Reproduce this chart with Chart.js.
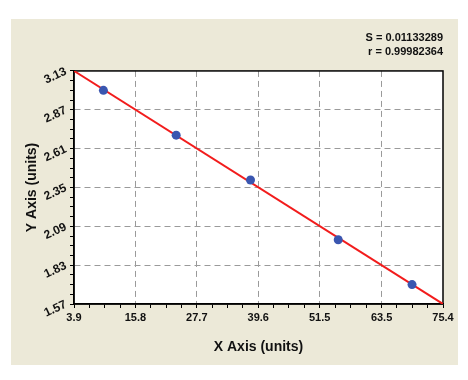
<!DOCTYPE html>
<html>
<head>
<meta charset="utf-8">
<script src="https://cdn.jsdelivr.net/npm/chart.js@4/dist/chart.umd.min.js"></script>
<style>
    body { margin: 0; background: #ffffff; }
    #panel {
        position: absolute;
        left: 11px; top: 19px;
        width: 447px; height: 346px;
        background: #ECE9D8;
    }
</style>
</head>
<body>
<div id="panel"><canvas id="stdChart" width="447" height="346"></canvas></div>
<script>
// ========== DATA ==========
const xValues = [9.6, 23.7, 38.1, 55.1, 69.4];
const yValues = [3.00, 2.70, 2.40, 2.00, 1.70];

// fitted line end points (across the axis range)
const fitX = [3.9, 75.4];
const fitY = [3.13, 1.57];

const xTickLabels = ['3.9', '15.8', '27.7', '39.6', '51.5', '63.5', '75.4'];
const yTickLabels = ['1.57', '1.83', '2.09', '2.35', '2.61', '2.87', '3.13'];

const statLines = ['S = 0.01133289', 'r = 0.99982364'];

// ========== HELPERS ==========
// major ticks from labels, 3 minor ticks between each pair
function buildTicks(labels) {
    const ticks = [];
    for (let i = 0; i < labels.length; i++) {
        const v = parseFloat(labels[i]);
        ticks.push({ value: v, isMajor: true, text: labels[i] });
        if (i < labels.length - 1) {
            const next = parseFloat(labels[i + 1]);
            for (let k = 1; k < 4; k++) {
                ticks.push({ value: v + (next - v) * k / 4, isMajor: false, text: '' });
            }
        }
    }
    return ticks;
}

function gridColor(ctx, labels) {
    const t = ctx.tick;
    if (!t || !t.isMajor) return 'rgba(0,0,0,0)';
    if (t.text === labels[0] || t.text === labels[labels.length - 1]) return 'rgba(0,0,0,0)';
    return '#9a9a9a';
}

const plotFrame = {
    id: 'plotFrame',
    beforeDraw(chart) {
        const { ctx, chartArea: a } = chart;
        ctx.save();
        ctx.fillStyle = '#ffffff';
        ctx.fillRect(a.left, a.top, a.right - a.left, a.bottom - a.top);
        ctx.restore();
    },
    beforeDatasetsDraw(chart) {
        const { ctx, chartArea: a } = chart;
        ctx.save();
        ctx.strokeStyle = '#000000';
        ctx.lineWidth = 1.5;
        ctx.strokeRect(a.left, a.top, a.right - a.left, a.bottom - a.top);
        ctx.restore();
    }
};

const FONT = "'Liberation Sans', Arial, sans-serif";

// ========== CHART ==========
new Chart(document.getElementById('stdChart').getContext('2d'), {
    type: 'scatter',
    data: {
        datasets: [{
            label: 'Standards',
            data: xValues.map((x, i) => ({ x: x, y: yValues[i] })),
            pointRadius: 4.5,
            pointBackgroundColor: '#3a56b0',
            pointBorderColor: '#3a56b0',
            pointBorderWidth: 0,
            showLine: false
        }, {
            label: 'Fit',
            data: fitX.map((x, i) => ({ x: x, y: fitY[i] })),
            showLine: true,
            borderColor: '#f21c1c',
            borderWidth: 2,
            pointRadius: 0
        }]
    },
    options: {
        responsive: false,
        animation: false,
        layout: { padding: { left: 0, right: 15, top: 0, bottom: 0 } },
        plugins: {
            legend: { display: false },
            tooltip: { enabled: false },
            title: {
                display: true,
                text: statLines,
                align: 'end',
                color: '#111111',
                font: { family: FONT, size: 11, weight: 'bold', lineHeight: 1.27 },
                padding: { top: 12, bottom: 12 }
            }
        },
        scales: {
            x: {
                type: 'linear',
                min: parseFloat(xTickLabels[0]),
                max: parseFloat(xTickLabels[xTickLabels.length - 1]),
                afterBuildTicks: scale => { scale.ticks = buildTicks(xTickLabels); },
                afterFit: scale => { scale.height = 61; },
                ticks: {
                    autoSkip: false,
                    maxRotation: 0,
                    padding: 3,
                    color: '#111111',
                    font: { family: FONT, size: 11, weight: 'bold' },
                    callback: (value, index, ticks) => ticks[index].text
                },
                grid: {
                    color: ctx => gridColor(ctx, xTickLabels),
                    tickColor: '#000000',
                    tickLength: 4,
                    tickBorderDash: []
                },
                border: { display: true, color: '#000000', width: 1.5, dash: [6, 4] },
                title: {
                    display: true,
                    text: 'X Axis (units)',
                    color: '#111111',
                    font: { family: FONT, size: 14, weight: 'bold' },
                    padding: { top: 4, bottom: 9 }
                }
            },
            y: {
                type: 'linear',
                min: parseFloat(yTickLabels[0]),
                max: parseFloat(yTickLabels[yTickLabels.length - 1]),
                afterBuildTicks: scale => { scale.ticks = buildTicks(yTickLabels); },
                afterFit: scale => { scale.width = 63; },
                ticks: {
                    autoSkip: false,
                    minRotation: 25,
                    maxRotation: 25,
                    padding: 4,
                    color: '#111111',
                    font: { family: FONT, size: 12, weight: 'bold' },
                    callback: (value, index, ticks) => ticks[index].text
                },
                grid: {
                    color: ctx => gridColor(ctx, yTickLabels),
                    tickColor: '#000000',
                    tickLength: 4,
                    tickBorderDash: []
                },
                border: { display: true, color: '#000000', width: 1.5, dash: [6, 4] },
                title: {
                    display: true,
                    text: 'Y Axis (units)',
                    color: '#111111',
                    font: { family: FONT, size: 14, weight: 'bold' },
                    padding: { top: 13, bottom: 4 }
                }
            }
        }
    },
    plugins: [plotFrame]
});
</script>
</body>
</html>
